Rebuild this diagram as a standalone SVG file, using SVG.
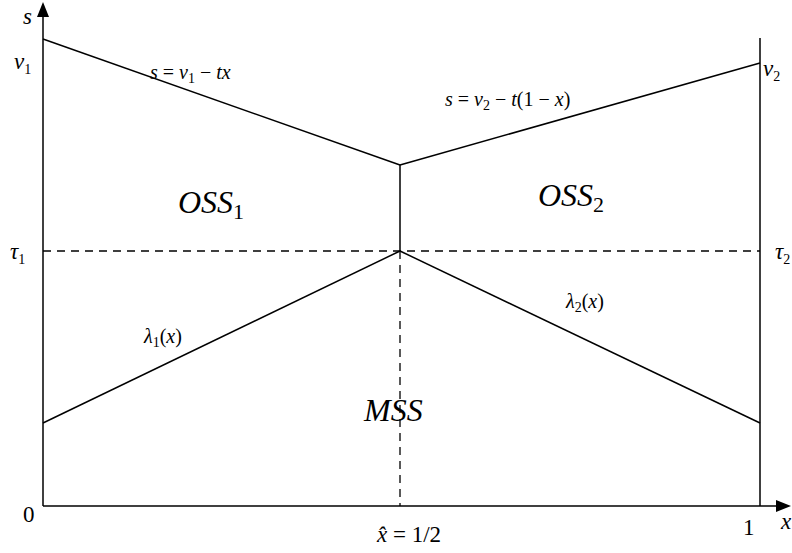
<svg xmlns="http://www.w3.org/2000/svg" width="792" height="553" viewBox="0 0 792 553">
<style>
.ln{stroke:#000;stroke-width:1.5;fill:none}
.ds{stroke:#000;stroke-width:1.3;fill:none;stroke-dasharray:8,6}
.t{font-family:"Times New Roman","Liberation Serif","DejaVu Serif",serif;fill:#000}
.i{font-style:italic}
.n{font-style:normal}
.s{font-size:20px}
.m{font-size:23px}
.b{font-size:32px}
.sub{font-size:14px;font-style:normal}
</style>
<rect width="792" height="553" fill="#fff"/>
<g id="axes">
<line class="ln" x1="43" y1="506" x2="43" y2="12"/>
<polygon points="43,2 37,17 49,17" fill="#000"/>
<line class="ln" x1="43" y1="506" x2="778" y2="506"/>
<polygon points="791,506 776,500 776,512" fill="#000"/>
<line class="ln" x1="760" y1="38" x2="760" y2="506"/>
</g>
<g id="connectors">
<line class="ln" x1="43" y1="39" x2="400" y2="165"/>
<line class="ln" x1="400" y1="165" x2="400" y2="251"/>
<line class="ln" x1="400" y1="165" x2="760" y2="63"/>
<line class="ln" x1="43" y1="423" x2="400" y2="251"/>
<line class="ln" x1="400" y1="251" x2="760" y2="423"/>
<line class="ds" x1="43" y1="251" x2="760" y2="251"/>
<line class="ds" x1="400" y1="251" x2="400" y2="506"/>
</g>
<g id="labels">
<text class="t i m" x="23" y="24">s</text>
<text class="t i m" x="14" y="69">v<tspan class="sub" dy="5">1</tspan></text>
<text class="t i m" x="763" y="76">v<tspan class="sub" dy="5">2</tspan></text>
<text class="t i m" x="10" y="259">τ<tspan class="sub" dy="5">1</tspan></text>
<text class="t i m" x="775" y="259">τ<tspan class="sub" dy="5">2</tspan></text>
<text class="t i s" x="150" y="79">s<tspan class="n"> = </tspan>v<tspan class="sub" dy="4">1</tspan><tspan dy="-4" class="n"> − </tspan>tx</text>
<text class="t i s" x="445" y="106">s<tspan class="n"> = </tspan>v<tspan class="sub" dy="4">2</tspan><tspan dy="-4" class="n"> − </tspan>t<tspan class="n">(1 − </tspan>x<tspan class="n">)</tspan></text>
<text class="t i s" x="144" y="343">λ<tspan class="sub" dy="4">1</tspan><tspan dy="-4" class="n">(</tspan>x<tspan class="n">)</tspan></text>
<text class="t i s" x="566" y="308">λ<tspan class="sub" dy="4">2</tspan><tspan dy="-4" class="n">(</tspan>x<tspan class="n">)</tspan></text>
<text class="t i b" x="178" y="213">OSS<tspan class="sub" dy="6" style="font-size:22px">1</tspan></text>
<text class="t i b" x="538" y="206">OSS<tspan class="sub" dy="6" style="font-size:22px">2</tspan></text>
<text class="t i b" x="364" y="421">MSS</text>
<text class="t m" x="23" y="522">0</text>
<text class="t m" x="743" y="535">1</text>
<text class="t i m" x="781" y="529">x</text>
<text class="t m" x="377" y="542"><tspan class="i">x̂</tspan> = 1/2</text>
</g>
</svg>
